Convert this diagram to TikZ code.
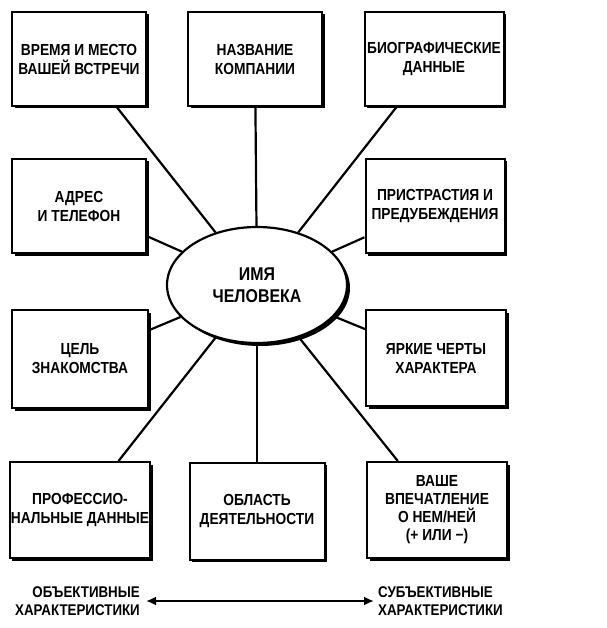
\documentclass[tikz,border=0pt]{standalone}
\usepackage{fontspec}
\setmainfont{Liberation Sans}[FakeStretch=0.86]
\usetikzlibrary{shapes.geometric,shadows,arrows.meta}
\tikzset{
  infobox/.style={draw,line width=2pt,fill=white,minimum width=134pt,minimum height=94pt,
    align=center,font=\bfseries\fontsize{16}{19}\selectfont,inner sep=1pt,
    drop shadow={shadow xshift=2.5pt,shadow yshift=-2.5pt,opacity=1,fill=black}},
  hub/.style={ellipse,draw,line width=2.2pt,fill=white,minimum width=180pt,minimum height=116pt,
    align=center,font=\bfseries\fontsize{18.5}{22}\selectfont,
    drop shadow={shadow xshift=3pt,shadow yshift=-3pt,opacity=1,fill=black}},
  spoke/.style={line width=2.2pt},
  sidelabel/.style={font=\bfseries\fontsize{15.5}{18}\selectfont,inner sep=0pt}
}
\begin{document}
\begin{tikzpicture}[x=1pt,y=-1pt]
\useasboundingbox (0,0) rectangle (606,628);
% center
\node[hub] (person) at (257,285) {ИМЯ\\ЧЕЛОВЕКА};
% boxes
\node[infobox] (meet) at (79,59) {ВРЕМЯ И МЕСТО\\ВАШЕЙ ВСТРЕЧИ};
\node[infobox] (firm) at (255,59) {НАЗВАНИЕ\\КОМПАНИИ};
\node[infobox,minimum width=139pt] (bio) at (434,59) {БИОГРАФИЧЕСКИЕ\\ДАННЫЕ};
\node[infobox] (addr) at (79,206) {АДРЕС\\И ТЕЛЕФОН};
\node[infobox,minimum width=139pt] (bias) at (435,206) {ПРИСТРАСТИЯ И\\ПРЕДУБЕЖДЕНИЯ};
\node[infobox,minimum width=136pt,minimum height=98pt] (goal) at (80,359) {ЦЕЛЬ\\ЗНАКОМСТВА};
\node[infobox,minimum width=140pt,minimum height=96pt] (traits) at (436,358) {ЯРКИЕ ЧЕРТЫ\\ХАРАКТЕРА};
\node[infobox,minimum width=136pt,minimum height=96pt] (prof) at (80,510) {ПРОФЕССИО-\\НАЛЬНЫЕ ДАННЫЕ};
\node[infobox,minimum width=135pt,minimum height=97pt] (field) at (257,511) {ОБЛАСТЬ\\ДЕЯТЕЛЬНОСТИ};
\node[infobox,minimum width=140pt,minimum height=96pt,font=\bfseries\fontsize{16}{18}\selectfont] (impr) at (437,510) {ВАШЕ\\ВПЕЧАТЛЕНИЕ\\О НЕМ/НЕЙ\\(+ ИЛИ −)};
% spokes
\foreach \b in {meet,firm,bio,addr,bias,goal,traits,prof,field,impr}{
  \draw[spoke] (person) -- (\b);
}
% bottom scale
\node[sidelabel,align=right,anchor=east] (obj) at (140,601) {ОБЪЕКТИВНЫЕ\\ХАРАКТЕРИСТИКИ};
\node[sidelabel,align=left,anchor=west] (subj) at (378,601) {СУБЪЕКТИВНЫЕ\\ХАРАКТЕРИСТИКИ};
\draw[line width=2pt,{Latex[length=10pt,width=9pt]}-{Latex[length=10pt,width=9pt]},shorten <=6pt,shorten >=4pt] (obj.east) -- (subj.west);
\end{tikzpicture}
\end{document}
